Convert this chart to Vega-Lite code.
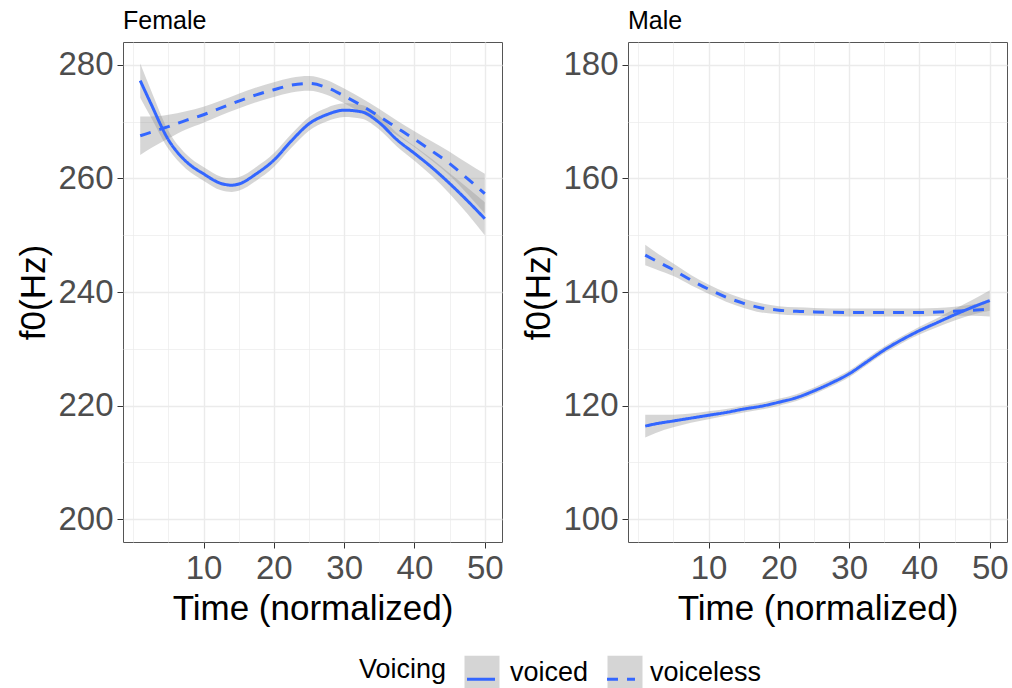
{
  "$schema": "https://vega.github.io/schema/vega-lite/v6.json",
  "padding": {"left": 16, "top": 8, "right": 2, "bottom": 2},
  "background": "white",
  "config": {
    "font": "Liberation Sans",
    "view": {"stroke": "#555555", "strokeWidth": 1},
    "axis": {
      "domain": false,
      "gridColor": "#ebebeb",
      "tickColor": "#333333",
      "tickSize": 6,
      "labelColor": "#4d4d4d",
      "labelFontSize": 33,
      "titleFontSize": 35,
      "titleFontWeight": "normal",
      "titleColor": "#000000",
      "labelPadding": 4,
      "titlePadding": 6
    },
    "title": {"fontSize": 25, "fontWeight": "normal", "color": "#000000", "anchor": "start", "frame": "group", "offset": 8}
  },
  "datasets": {
    "f0": [
      {"s":"Female","v":"voiced","t":1,"f0":277.2,"lo":274.2,"hi":280.2},
      {"s":"Female","v":"voiced","t":2.5,"f0":273.2,"lo":270.8,"hi":275.6},
      {"s":"Female","v":"voiced","t":5,"f0":266.8,"lo":265.2,"hi":268.4},
      {"s":"Female","v":"voiced","t":7.5,"f0":263.0,"lo":261.7,"hi":264.3},
      {"s":"Female","v":"voiced","t":10,"f0":260.8,"lo":259.6,"hi":262.0},
      {"s":"Female","v":"voiced","t":12.5,"f0":259.1,"lo":257.9,"hi":260.3},
      {"s":"Female","v":"voiced","t":14,"f0":258.8,"lo":257.6,"hi":260.0},
      {"s":"Female","v":"voiced","t":15,"f0":259.0,"lo":257.8,"hi":260.2},
      {"s":"Female","v":"voiced","t":17.5,"f0":260.8,"lo":259.6,"hi":262.0},
      {"s":"Female","v":"voiced","t":20,"f0":263.2,"lo":262.0,"hi":264.4},
      {"s":"Female","v":"voiced","t":22.5,"f0":266.6,"lo":265.4,"hi":267.8},
      {"s":"Female","v":"voiced","t":25,"f0":269.6,"lo":268.4,"hi":270.8},
      {"s":"Female","v":"voiced","t":27.5,"f0":271.2,"lo":270.0,"hi":272.4},
      {"s":"Female","v":"voiced","t":30,"f0":272.0,"lo":270.8,"hi":273.2},
      {"s":"Female","v":"voiced","t":32.5,"f0":271.7,"lo":270.5,"hi":272.9},
      {"s":"Female","v":"voiced","t":35,"f0":269.8,"lo":268.6,"hi":271.0},
      {"s":"Female","v":"voiced","t":37.5,"f0":266.8,"lo":265.6,"hi":268.0},
      {"s":"Female","v":"voiced","t":40,"f0":264.4,"lo":263.1,"hi":265.7},
      {"s":"Female","v":"voiced","t":42.5,"f0":261.9,"lo":260.4,"hi":263.4},
      {"s":"Female","v":"voiced","t":45,"f0":259.1,"lo":257.3,"hi":260.9},
      {"s":"Female","v":"voiced","t":47.5,"f0":256.1,"lo":253.8,"hi":258.4},
      {"s":"Female","v":"voiced","t":50,"f0":252.9,"lo":250.0,"hi":255.8},
      {"s":"Female","v":"voiceless","t":1,"f0":267.5,"lo":264.1,"hi":270.9},
      {"s":"Female","v":"voiceless","t":2.5,"f0":268.1,"lo":265.3,"hi":270.9},
      {"s":"Female","v":"voiceless","t":5,"f0":269.1,"lo":267.0,"hi":271.2},
      {"s":"Female","v":"voiceless","t":7.5,"f0":270.2,"lo":268.6,"hi":271.8},
      {"s":"Female","v":"voiceless","t":10,"f0":271.2,"lo":269.8,"hi":272.6},
      {"s":"Female","v":"voiceless","t":12.5,"f0":272.4,"lo":271.1,"hi":273.7},
      {"s":"Female","v":"voiceless","t":15,"f0":273.6,"lo":272.3,"hi":274.9},
      {"s":"Female","v":"voiceless","t":17.5,"f0":274.7,"lo":273.4,"hi":276.0},
      {"s":"Female","v":"voiceless","t":20,"f0":275.6,"lo":274.3,"hi":276.9},
      {"s":"Female","v":"voiceless","t":22.5,"f0":276.4,"lo":275.1,"hi":277.7},
      {"s":"Female","v":"voiceless","t":25,"f0":276.7,"lo":275.4,"hi":278.0},
      {"s":"Female","v":"voiceless","t":27.5,"f0":276.0,"lo":274.7,"hi":277.3},
      {"s":"Female","v":"voiceless","t":30,"f0":274.5,"lo":273.2,"hi":275.8},
      {"s":"Female","v":"voiceless","t":32.5,"f0":272.8,"lo":271.5,"hi":274.1},
      {"s":"Female","v":"voiceless","t":35,"f0":270.9,"lo":269.6,"hi":272.2},
      {"s":"Female","v":"voiceless","t":37.5,"f0":268.9,"lo":267.6,"hi":270.2},
      {"s":"Female","v":"voiceless","t":40,"f0":266.9,"lo":265.5,"hi":268.3},
      {"s":"Female","v":"voiceless","t":42.5,"f0":264.8,"lo":263.1,"hi":266.5},
      {"s":"Female","v":"voiceless","t":45,"f0":262.6,"lo":260.5,"hi":264.7},
      {"s":"Female","v":"voiceless","t":47.5,"f0":260.0,"lo":257.3,"hi":262.7},
      {"s":"Female","v":"voiceless","t":50,"f0":257.3,"lo":253.8,"hi":260.8},
      {"s":"Male","v":"voiceless","t":1,"f0":146.5,"lo":144.7,"hi":148.3},
      {"s":"Male","v":"voiceless","t":2.5,"f0":145.5,"lo":144.0,"hi":147.0},
      {"s":"Male","v":"voiceless","t":5,"f0":143.9,"lo":142.8,"hi":145.0},
      {"s":"Male","v":"voiceless","t":7.5,"f0":142.1,"lo":141.2,"hi":143.0},
      {"s":"Male","v":"voiceless","t":10,"f0":140.5,"lo":139.7,"hi":141.3},
      {"s":"Male","v":"voiceless","t":12.5,"f0":139.1,"lo":138.3,"hi":139.9},
      {"s":"Male","v":"voiceless","t":15,"f0":138.0,"lo":137.2,"hi":138.8},
      {"s":"Male","v":"voiceless","t":17.5,"f0":137.2,"lo":136.4,"hi":138.0},
      {"s":"Male","v":"voiceless","t":20,"f0":136.8,"lo":136.1,"hi":137.5},
      {"s":"Male","v":"voiceless","t":22.5,"f0":136.6,"lo":135.9,"hi":137.3},
      {"s":"Male","v":"voiceless","t":25,"f0":136.5,"lo":135.8,"hi":137.2},
      {"s":"Male","v":"voiceless","t":30,"f0":136.4,"lo":135.7,"hi":137.1},
      {"s":"Male","v":"voiceless","t":35,"f0":136.4,"lo":135.7,"hi":137.1},
      {"s":"Male","v":"voiceless","t":40,"f0":136.4,"lo":135.7,"hi":137.1},
      {"s":"Male","v":"voiceless","t":45,"f0":136.6,"lo":135.8,"hi":137.4},
      {"s":"Male","v":"voiceless","t":47.5,"f0":136.8,"lo":135.8,"hi":137.8},
      {"s":"Male","v":"voiceless","t":50,"f0":137.0,"lo":135.7,"hi":138.3},
      {"s":"Male","v":"voiced","t":1,"f0":116.4,"lo":114.4,"hi":118.4},
      {"s":"Male","v":"voiced","t":2.5,"f0":116.8,"lo":115.2,"hi":118.4},
      {"s":"Male","v":"voiced","t":5,"f0":117.3,"lo":116.2,"hi":118.4},
      {"s":"Male","v":"voiced","t":7.5,"f0":117.8,"lo":117.0,"hi":118.6},
      {"s":"Male","v":"voiced","t":10,"f0":118.3,"lo":117.6,"hi":119.0},
      {"s":"Male","v":"voiced","t":12.5,"f0":118.8,"lo":118.2,"hi":119.4},
      {"s":"Male","v":"voiced","t":15,"f0":119.4,"lo":118.8,"hi":120.0},
      {"s":"Male","v":"voiced","t":17.5,"f0":119.9,"lo":119.3,"hi":120.5},
      {"s":"Male","v":"voiced","t":20,"f0":120.6,"lo":120.0,"hi":121.2},
      {"s":"Male","v":"voiced","t":22.5,"f0":121.4,"lo":120.8,"hi":122.0},
      {"s":"Male","v":"voiced","t":25,"f0":122.6,"lo":122.0,"hi":123.2},
      {"s":"Male","v":"voiced","t":27.5,"f0":124.0,"lo":123.4,"hi":124.6},
      {"s":"Male","v":"voiced","t":30,"f0":125.6,"lo":125.0,"hi":126.2},
      {"s":"Male","v":"voiced","t":32.5,"f0":127.7,"lo":127.1,"hi":128.3},
      {"s":"Male","v":"voiced","t":35,"f0":129.8,"lo":129.2,"hi":130.4},
      {"s":"Male","v":"voiced","t":37.5,"f0":131.6,"lo":131.0,"hi":132.2},
      {"s":"Male","v":"voiced","t":40,"f0":133.2,"lo":132.5,"hi":133.9},
      {"s":"Male","v":"voiced","t":42.5,"f0":134.6,"lo":133.8,"hi":135.4},
      {"s":"Male","v":"voiced","t":45,"f0":136.0,"lo":135.0,"hi":137.0},
      {"s":"Male","v":"voiced","t":47.5,"f0":137.3,"lo":136.0,"hi":138.6},
      {"s":"Male","v":"voiced","t":50,"f0":138.5,"lo":136.7,"hi":140.3}
    ]
  },
  "data": {"name": "f0"},
  "spacing": 17,
  "resolve": {"scale": {"strokeDash": "shared", "fill": "shared"}, "legend": {"strokeDash": "shared", "fill": "shared"}},
  "hconcat": [
    {
      "width": 379, "height": 500,
      "title": {"text": "Female"},
      "transform": [{"filter": "datum.s === 'Female'"}],
      "encoding": {
        "x": {"field": "t", "type": "quantitative", "title": "Time (normalized)",
          "scale": {"domain": [-1.45, 52.45], "nice": false, "zero": false},
          "axis": {"values": [0,5,10,15,20,25,30,35,40,45,50],
            "labelExpr": "datum.value % 10 === 0 && datum.value > 0 ? datum.label : ''",
            "gridWidth": {"condition": {"test": "datum.value % 10 === 0 && datum.value > 0", "value": 1.4}, "value": 0.7},
            "tickOpacity": {"condition": {"test": "datum.value % 10 === 0 && datum.value > 0", "value": 1}, "value": 0}}}
      },
      "layer": [
        {"mark": {"type": "area", "opacity": 0.4, "interpolate": "monotone"},
         "encoding": {
           "y": {"field": "lo", "type": "quantitative", "title": "f0(Hz)",
             "scale": {"domain": [196, 284], "nice": false, "zero": false},
             "axis": {"values": [200,210,220,230,240,250,260,270,280],
               "labelExpr": "datum.value % 20 === 0 ? datum.label : ''",
               "gridWidth": {"condition": {"test": "datum.value % 20 === 0", "value": 1.4}, "value": 0.7},
               "tickOpacity": {"condition": {"test": "datum.value % 20 === 0", "value": 1}, "value": 0}}},
           "y2": {"field": "hi"},
           "fill": {"field": "v", "type": "nominal",
             "scale": {"range": ["#999999", "#999999"]},
             "legend": {"orient": "none", "direction": "horizontal", "legendX": 340, "legendY": 612, "zindex": 0,
               "title": null, "labelExpr": "''", "labelFontSize": 27,
               "symbolType": "square", "symbolOpacity": 0.4,
               "symbolStrokeColor": "transparent", "symbolStrokeWidth": 3,
               "symbolSize": 1225, "labelOffset": 10, "columnPadding": 90}}}},
        {"mark": {"type": "line", "color": "#3366FF", "strokeWidth": 3, "interpolate": "monotone"},
         "encoding": {
           "y": {"field": "f0", "type": "quantitative", "title": "f0(Hz)"},
           "strokeDash": {"field": "v", "type": "nominal", "title": "Voicing",
             "scale": {"domain": ["voiced", "voiceless"], "range": [[1, 0], [11, 9]]},
             "legend": {"orient": "none", "direction": "horizontal", "legendX": 236, "legendY": 612, "zindex": 1,
               "titleOrient": "left", "titleAnchor": "middle", "titleBaseline": "middle",
               "titleFontSize": 27, "titleFontWeight": "normal", "titleColor": "#000000",
               "labelFontSize": 27, "labelColor": "#000000", "symbolType": "M-0.8,0.35H0.8", "symbolStrokeColor": "#3366FF",
               "symbolFillColor": "transparent",
               "symbolStrokeWidth": 3, "symbolSize": 1225, "labelOffset": 10, "columnPadding": 12, "titlePadding": 15}}}}
      ]
    },
    {
      "width": 379, "height": 500,
      "title": {"text": "Male"},
      "transform": [{"filter": "datum.s === 'Male'"}],
      "encoding": {
        "x": {"field": "t", "type": "quantitative", "title": "Time (normalized)",
          "scale": {"domain": [-1.45, 52.45], "nice": false, "zero": false},
          "axis": {"values": [0,5,10,15,20,25,30,35,40,45,50],
            "labelExpr": "datum.value % 10 === 0 && datum.value > 0 ? datum.label : ''",
            "gridWidth": {"condition": {"test": "datum.value % 10 === 0 && datum.value > 0", "value": 1.4}, "value": 0.7},
            "tickOpacity": {"condition": {"test": "datum.value % 10 === 0 && datum.value > 0", "value": 1}, "value": 0}}}
      },
      "layer": [
        {"mark": {"type": "area", "opacity": 0.4, "interpolate": "monotone"},
         "encoding": {
           "y": {"field": "lo", "type": "quantitative", "title": "f0(Hz)",
             "scale": {"domain": [96, 184], "nice": false, "zero": false},
             "axis": {"values": [100,110,120,130,140,150,160,170,180],
               "labelExpr": "datum.value % 20 === 0 ? datum.label : ''",
               "gridWidth": {"condition": {"test": "datum.value % 20 === 0", "value": 1.4}, "value": 0.7},
               "tickOpacity": {"condition": {"test": "datum.value % 20 === 0", "value": 1}, "value": 0}}},
           "y2": {"field": "hi"},
           "fill": {"field": "v", "type": "nominal",
             "scale": {"range": ["#999999", "#999999"]}}}},
        {"mark": {"type": "line", "color": "#3366FF", "strokeWidth": 3, "interpolate": "monotone"},
         "encoding": {
           "y": {"field": "f0", "type": "quantitative", "title": "f0(Hz)"},
           "strokeDash": {"field": "v", "type": "nominal", "title": "Voicing",
             "scale": {"domain": ["voiced", "voiceless"], "range": [[1, 0], [11, 9]]}}}}
      ]
    }
  ]
}
